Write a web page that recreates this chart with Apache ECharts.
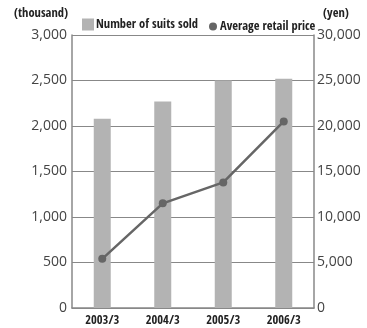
<!DOCTYPE html>
<html><head><meta charset="utf-8">
<script src="https://cdn.jsdelivr.net/npm/echarts@6/dist/echarts.min.js"></script>
<style>html,body{margin:0;padding:0;background:#fff}#c{width:367px;height:328px}</style>
</head><body><div id="c"></div>
<script>
const categories = ['2003/3', '2004/3', '2005/3', '2006/3'];
const suitsSold = [2080, 2270, 2500, 2520];
const avgPrice = [5400, 11500, 13800, 20500];
const leftTicks = ['0', '500', '1,000', '1,500', '2,000', '2,500', '3,000'];
const rightTicks = ['0', '5,000', '10,000', '15,000', '20,000', '25,000', '30,000'];

const bold = '"Open Sans Condensed", "Roboto Condensed", "Liberation Sans", sans-serif';
const num = '"Open Sans", "Noto Sans", sans-serif';
const legendText = { fontFamily: bold, fontWeight: 'bold', fontSize: 12.5, color: '#222', padding: [0, 0, 0, -3] };
const legendText2 = { fontFamily: bold, fontWeight: 'bold', fontSize: 12.5, color: '#222', padding: [0, 0, 0, -2] };
const chart = echarts.init(document.getElementById('c'));
chart.setOption({
  animation: false,
  grid: { left: 72, right: 53, top: 35, bottom: 20 },
  legend: [
    { left: 77, top: 13, itemWidth: 12, itemHeight: 12, textStyle: legendText,
      data: [{ name: 'Number of suits sold', icon: 'rect' }] },
    { left: 204, top: 15, itemWidth: 8, itemHeight: 8, textStyle: legendText2,
      data: [{ name: 'Average retail price', icon: 'circle' }] }
  ],
  xAxis: {
    type: 'category', data: categories, boundaryGap: true,
    axisLine: { lineStyle: { color: '#888', width: 1.5 } },
    axisTick: { show: false },
    axisLabel: { fontFamily: bold, fontWeight: 'bold', fontSize: 12.5, color: '#222', margin: 6 }
  },
  yAxis: [
    {
      type: 'value', min: 0, max: 3000, interval: 500,
      name: '(thousand)', nameLocation: 'end', nameGap: 15,
      nameTextStyle: { fontFamily: bold, fontWeight: 'bold', fontSize: 12.5, color: '#222', align: 'right', padding: [0, 4, 0, 0] },
      axisLine: { show: true, lineStyle: { color: '#888', width: 1.5 } },
      axisTick: { show: false },
      splitLine: { show: true, lineStyle: { color: '#888', width: 1.2 } },
      axisLabel: { fontFamily: num, fontSize: 14, color: '#444', margin: 5,
        formatter: (v) => leftTicks[Math.round(v / 500)] }
    },
    {
      type: 'value', min: 0, max: 30000, interval: 5000,
      name: '(yen)', nameLocation: 'end', nameGap: 15,
      nameTextStyle: { fontFamily: bold, fontWeight: 'bold', fontSize: 12.5, color: '#222', align: 'left', padding: [0, 0, 0, 9] },
      axisLine: { show: true, lineStyle: { color: '#888', width: 1.5 } },
      axisTick: { show: false },
      splitLine: { show: false },
      axisLabel: { fontFamily: num, fontSize: 14, color: '#444', margin: 3,
        formatter: (v) => rightTicks[Math.round(v / 5000)] }
    }
  ],
  series: [
    {
      name: 'Number of suits sold', type: 'bar', data: suitsSold, yAxisIndex: 0,
      barWidth: 17, itemStyle: { color: '#b3b3b3' }
    },
    {
      name: 'Average retail price', type: 'line', data: avgPrice, yAxisIndex: 1,
      symbol: 'circle', symbolSize: 8,
      lineStyle: { color: '#666', width: 2.5 }, itemStyle: { color: '#666' }
    }
  ]
});
</script></body></html>
